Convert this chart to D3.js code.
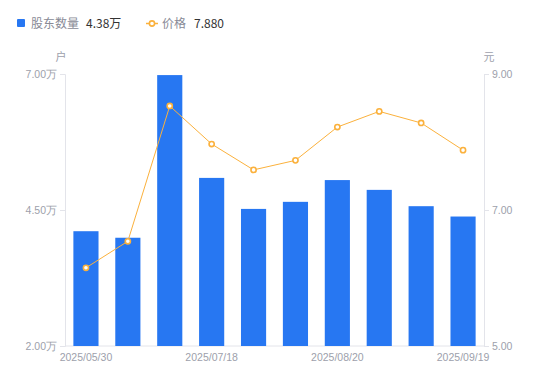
<!DOCTYPE html>
<html>
<head>
<meta charset="utf-8">
<script src="https://cdn.jsdelivr.net/npm/d3@7"></script>
<style>
  body { margin: 0; background: #fff; }
  svg text { font-family: "Noto Sans CJK SC", "Noto Sans", sans-serif; }
</style>
</head>
<body>
<div id="chart"></div>
<script>
// data
var dates   = ["2025/05/30", "2025/06/13", "2025/06/30", "2025/07/18", "2025/07/31",
               "2025/08/10", "2025/08/20", "2025/08/31", "2025/09/10", "2025/09/19"];
var holders = [4.11, 3.99, 6.98, 5.09, 4.52, 4.65, 5.05, 4.87, 4.57, 4.38];   // 万户
var price   = [6.15, 6.54, 8.53, 7.97, 7.59, 7.73, 8.22, 8.45, 8.28, 7.88];
var leftTicks  = [2.0, 4.5, 7.0];
var rightTicks = [5.0, 7.0, 9.0];

var W = 550, H = 381;
var plot = {left: 65, right: 484, top: 74, bottom: 346};
var barColor = "#2777f2", lineColor = "#fbb13c", axisColor = "#e3e4ea", labelColor = "#9d9fab";

var svg = d3.select("#chart").append("svg")
    .attr("width", W)
    .attr("height", H);

// scales
var x = d3.scaleBand()
    .domain(dates)
    .range([plot.left, plot.right])
    .paddingInner(0.4)
    .paddingOuter(0.2);

var yLeft = d3.scaleLinear().domain([2, 7]).range([plot.bottom, plot.top]);
var yRight = d3.scaleLinear().domain([5, 9]).range([plot.bottom, plot.top]);

// left axis
var axL = svg.append("g")
    .attr("transform", "translate(" + plot.left + ",0)")
    .call(d3.axisLeft(yLeft).tickValues(leftTicks).tickSize(5).tickPadding(3)
        .tickFormat(function(d){ return d3.format(".2f")(d) + "万"; }));

// right axis
var axR = svg.append("g")
    .attr("transform", "translate(" + plot.right + ",0)")
    .call(d3.axisRight(yRight).tickValues(rightTicks).tickSize(5).tickPadding(3)
        .tickFormat(d3.format(".2f")));

// bottom axis, every third label
var axB = svg.append("g")
    .attr("transform", "translate(0," + plot.bottom + ")")
    .call(d3.axisBottom(x).tickSize(0).tickPadding(8)
        .tickFormat(function(d, i){ return i % 3 === 0 ? d : ""; }));

[axL, axR, axB].forEach(function(ax){
    ax.selectAll("path").attr("stroke", axisColor);
    ax.selectAll("line").attr("stroke", axisColor);
    ax.selectAll("text").attr("fill", labelColor).style("font-size", "10.5px")
        .style("font-family", "'Liberation Sans', Arial, sans-serif");
});
axB.select("path").attr("d", "M" + plot.left + ",0H" + plot.right);

// unit labels
svg.append("text").attr("x", 61).attr("y", 61).attr("text-anchor", "middle")
    .attr("fill", labelColor).style("font-size", "11px").text("户");
svg.append("text").attr("x", 489).attr("y", 61).attr("text-anchor", "middle")
    .attr("fill", labelColor).style("font-size", "11px").text("元");

// bars
svg.append("g").selectAll("rect")
    .data(holders)
    .enter().append("rect")
    .attr("x", function(d, i){ return x(dates[i]); })
    .attr("y", function(d){ return yLeft(d); })
    .attr("width", x.bandwidth())
    .attr("height", function(d){ return plot.bottom - yLeft(d); })
    .attr("fill", barColor);

// price line
var line = d3.line()
    .x(function(d, i){ return x(dates[i]) + x.bandwidth() / 2; })
    .y(function(d){ return yRight(d); });

svg.append("path")
    .datum(price)
    .attr("d", line)
    .attr("fill", "none")
    .attr("stroke", lineColor)
    .attr("stroke-width", 1);

svg.append("g").selectAll("circle")
    .data(price)
    .enter().append("circle")
    .attr("cx", function(d, i){ return x(dates[i]) + x.bandwidth() / 2; })
    .attr("cy", function(d){ return yRight(d); })
    .attr("r", 2.6)
    .attr("fill", "#fff")
    .attr("stroke", lineColor)
    .attr("stroke-width", 1.6);

// legend
var lg = svg.append("g");
lg.append("rect").attr("x", 17).attr("y", 19).attr("width", 8).attr("height", 8)
    .attr("rx", 1).attr("fill", barColor);
lg.append("text").attr("x", 31).attr("y", 28).attr("fill", "#888a96")
    .style("font-size", "12px").text("股东数量");
lg.append("text").attr("x", 86).attr("y", 28).attr("fill", "#333")
    .style("font-size", "12px").text(d3.format(".2f")(holders[holders.length - 1]) + "万");

lg.append("line").attr("x1", 146).attr("x2", 158).attr("y1", 23.5).attr("y2", 23.5)
    .attr("stroke", lineColor).attr("stroke-width", 1.5);
lg.append("circle").attr("cx", 152).attr("cy", 23.5).attr("r", 2.6)
    .attr("fill", "#fff").attr("stroke", lineColor).attr("stroke-width", 1.6);
lg.append("text").attr("x", 162).attr("y", 28).attr("fill", "#888a96")
    .style("font-size", "12px").text("价格");
lg.append("text").attr("x", 194).attr("y", 28).attr("fill", "#333")
    .style("font-size", "12px").text(d3.format(".3f")(price[price.length - 1]));
</script>
</body>
</html>
